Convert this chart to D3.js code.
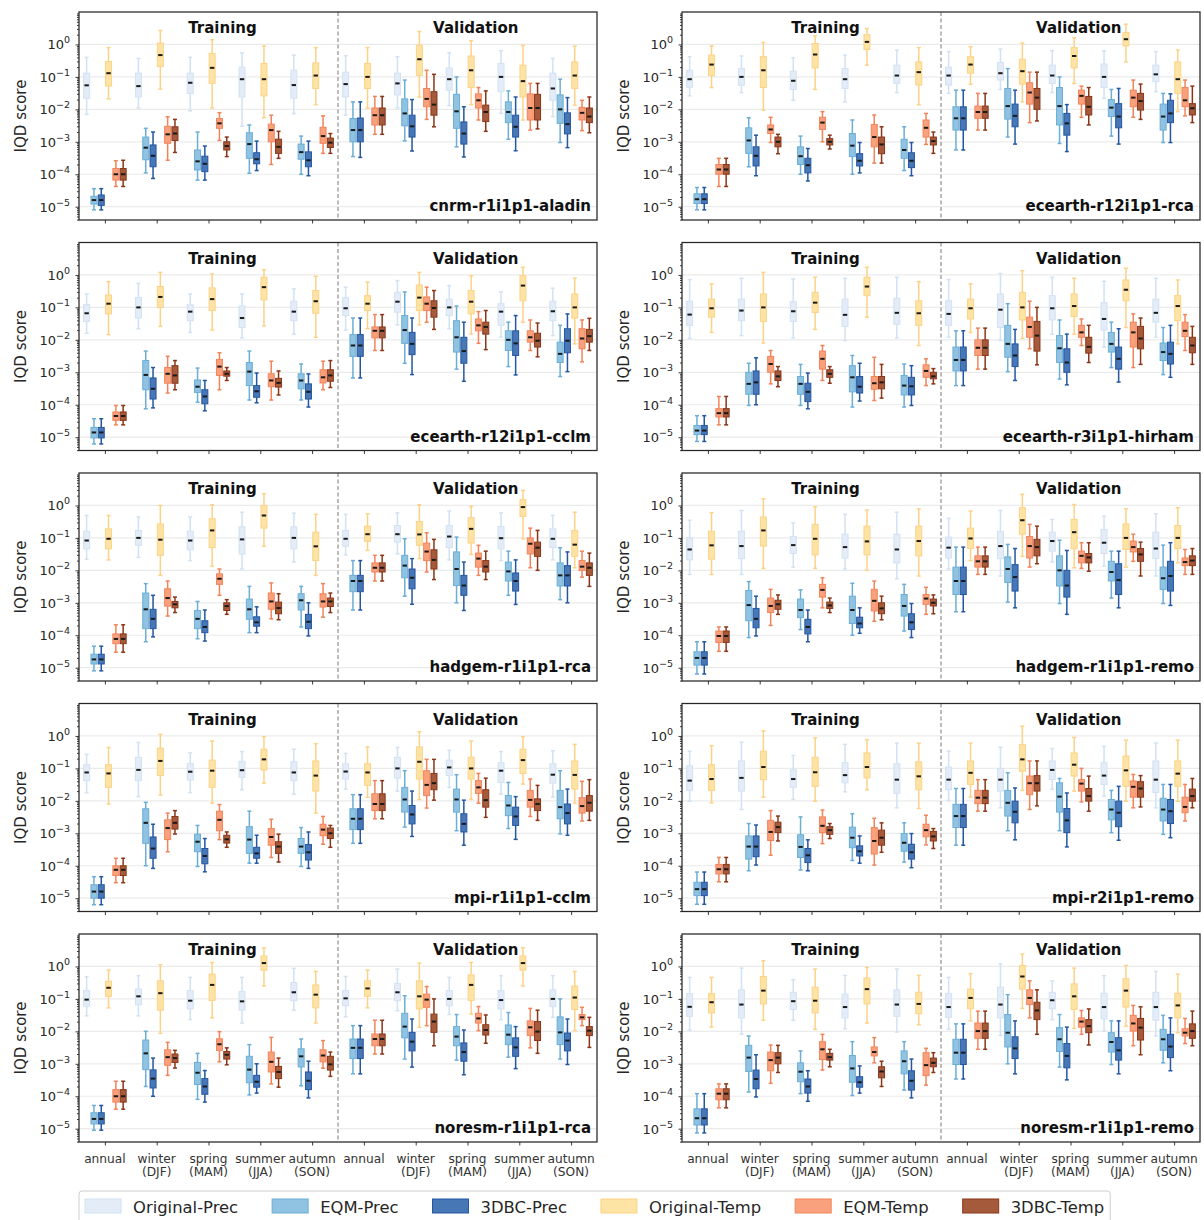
<!DOCTYPE html>
<html>
<head>
<meta charset="utf-8">
<script src="https://cdn.jsdelivr.net/npm/d3@7"></script>
<style>
  body { margin: 0; background: #fff; }
  svg { display: block; font-family: "DejaVu Sans", sans-serif; }
</style>
</head>
<body>
<svg id="chart" width="1204" height="1220"></svg>
<script>
// ---- labels ----
const seriesNames = ["Original-Prec", "EQM-Prec", "3DBC-Prec", "Original-Temp", "EQM-Temp", "3DBC-Temp"];
const seasonLabels = [["annual"], ["winter", "(DJF)"], ["spring", "(MAM)"], ["summer", "(JJA)"], ["autumn", "(SON)"]];
const periods = ["Training", "Validation"];
const models = ["cnrm-r1i1p1-aladin", "ecearth-r12i1p1-rca", "ecearth-r12i1p1-cclm", "ecearth-r3i1p1-hirham",
  "hadgem-r1i1p1-rca", "hadgem-r1i1p1-remo", "mpi-r1i1p1-cclm", "mpi-r2i1p1-remo",
  "noresm-r1i1p1-rca", "noresm-r1i1p1-remo"];
const yTicks = [1e-5, 1e-4, 1e-3, 1e-2, 1e-1, 1];

// ---- box statistics: per series, 10 groups (5 training + 5 validation), each [whiskerLow, q1, median, q3, whiskerHigh] ----
const cnrmAladin = [
  [[0.007,0.022,0.055,0.13,0.4],[0.011,0.024,0.052,0.13,0.37],[0.009,0.031,0.066,0.13,0.4],[0.003,0.024,0.085,0.2,0.55],[0.0074,0.022,0.056,0.16,0.47],
   [0.0067,0.024,0.06,0.14,0.45],[0.011,0.028,0.063,0.13,0.42],[0.013,0.039,0.085,0.19,0.55],[0.0075,0.035,0.1,0.26,0.64],[0.006,0.019,0.044,0.13,0.37]],
  [[8e-6,1.2e-5,1.6e-5,2.1e-5,3.6e-5],[1.1e-4,2.8e-4,6.6e-4,1.4e-3,2.6e-3],[6.6e-5,1.35e-4,2.5e-4,5.6e-4,2e-3],[1.07e-4,3.1e-4,8.5e-4,1.9e-3,3.3e-3],[1e-4,2.9e-4,4.8e-4,8.5e-4,1.5e-3],
   [3.5e-4,1e-3,2.3e-3,5.2e-3,0.017],[1.07e-3,3.1e-3,7.5e-3,0.021,0.08],[7e-4,2.6e-3,8.7e-3,0.029,0.1],[1.2e-3,3.9e-3,8.3e-3,0.017,0.037],[9.5e-4,3.7e-3,0.01,0.028,0.085]],
  [[8e-6,1.1e-5,1.6e-5,2.3e-5,3.6e-5],[7.4e-5,1.7e-4,3.7e-4,8e-4,2e-3],[6.6e-5,1.2e-4,2.1e-4,3.6e-4,7.4e-4],[1.3e-4,2.1e-4,2.9e-4,4.6e-4,1.05e-3],[9e-5,1.7e-4,2.7e-4,4.9e-4,1.05e-3],
   [3.3e-4,1e-3,2.3e-3,5.4e-3,0.017],[5.2e-4,1.4e-3,3e-3,6.6e-3,0.02],[3.4e-4,8.5e-4,1.8e-3,4.1e-3,0.012],[5.3e-4,1.4e-3,2.9e-3,6.6e-3,0.024],[6.6e-4,1.75e-3,3.5e-3,7.8e-3,0.023]],
  [[0.021,0.052,0.13,0.3,0.8],[0.042,0.21,0.47,1.1,2.7],[0.011,0.063,0.19,0.53,1.4],[0.0055,0.026,0.085,0.26,0.9],[0.014,0.044,0.11,0.27,0.8],
   [0.011,0.044,0.1,0.26,0.8],[0.024,0.11,0.35,0.95,2.5],[0.014,0.047,0.16,0.44,1.3],[0.0047,0.024,0.074,0.23,0.95],[0.0135,0.044,0.11,0.29,0.89]],
  [[4.2e-5,6.6e-5,1e-4,1.5e-4,2.6e-4],[2.7e-4,9e-4,1.7e-3,3e-3,5.9e-3],[1.1e-3,2.6e-3,3.7e-3,5.2e-3,7.9e-3],[2e-4,1e-3,2.3e-3,3.5e-3,6.6e-3],[4.4e-4,9e-4,1.5e-3,2.8e-3,6.3e-3],
   [1.7e-3,3.3e-3,6.6e-3,0.011,0.025],[4.9e-3,0.012,0.021,0.044,0.16],[4.7e-3,0.011,0.019,0.03,0.047],[2.3e-3,4.7e-3,0.011,0.03,0.063],[2.2e-3,4.7e-3,7.8e-3,0.0115,0.019]],
  [[4.2e-5,6.6e-5,1e-4,1.5e-4,2.7e-4],[4.7e-4,1.1e-3,1.8e-3,2.9e-3,4.9e-3],[3.5e-4,5.6e-4,7.4e-4,1e-3,1.4e-3],[3.1e-4,4.4e-4,7e-4,1.2e-3,2.1e-3],[4.4e-4,6.7e-4,9.4e-4,1.3e-3,1.8e-3],
   [1.7e-3,3.3e-3,6.6e-3,0.011,0.025],[2.9e-3,6.6e-3,0.014,0.035,0.12],[2.1e-3,4.2e-3,8.3e-3,0.0135,0.037],[2.5e-3,4.7e-3,0.011,0.029,0.063],[1.9e-3,3.9e-3,6e-3,0.011,0.024]]
];

const ecearthR12Rca = [
  [[0.026,0.048,0.085,0.16,0.42],[0.033,0.055,0.1,0.18,0.44],[0.019,0.041,0.076,0.15,0.39],[0.017,0.044,0.085,0.18,0.47],[0.033,0.063,0.11,0.23,0.67],
   [0.031,0.056,0.11,0.2,0.6],[0.041,0.08,0.13,0.28,0.72],[0.033,0.063,0.11,0.23,0.64],[0.022,0.047,0.1,0.25,0.64],[0.035,0.071,0.12,0.23,0.6]],
  [[8e-6,1.25e-5,1.7e-5,2.5e-5,3.9e-5],[1.7e-4,4.4e-4,1.1e-3,2.7e-3,5.5e-3],[1e-4,2e-4,3.6e-4,7e-4,1.5e-3],[1e-4,3.5e-4,7.6e-4,1.8e-3,4.7e-3],[1.3e-4,3.1e-4,5.6e-4,1.2e-3,2.9e-3],
   [5.6e-4,2.3e-3,5.3e-3,0.012,0.039],[1.4e-3,5e-3,0.0126,0.044,0.18],[8.9e-4,3.3e-3,0.0126,0.047,0.1],[1.5e-3,6e-3,0.0113,0.02,0.041],[9.5e-4,2.3e-3,6e-3,0.0145,0.031]],
  [[8e-6,1.25e-5,1.7e-5,2.5e-5,3.9e-5],[9e-5,1.8e-4,3.7e-4,7e-4,1.6e-3],[6.2e-5,1.1e-4,1.9e-4,3.1e-4,6.2e-4],[1.1e-4,1.8e-4,2.6e-4,4.3e-4,9.5e-4],[9e-5,1.6e-4,2.6e-4,4.6e-4,9.5e-4],
   [5.6e-4,2.3e-3,5.3e-3,0.012,0.039],[8.5e-4,2.9e-3,6.3e-3,0.0145,0.039],[5e-4,1.6e-3,3.7e-3,7.5e-3,0.014],[8.5e-4,2.7e-3,6e-3,0.015,0.044],[9.5e-4,3.9e-3,7.5e-3,0.019,0.03]],
  [[0.047,0.11,0.24,0.47,0.9],[0.0095,0.047,0.16,0.42,1.15],[0.041,0.19,0.49,1.07,1.85],[0.23,0.7,1.2,2.0,3.1],[0.014,0.056,0.14,0.29,0.8],
   [0.059,0.13,0.24,0.42,0.85],[0.017,0.06,0.15,0.35,1.1],[0.063,0.19,0.44,0.8,1.6],[0.29,0.9,1.45,2.35,4.2],[0.0085,0.031,0.085,0.29,0.67]],
  [[4.2e-5,1e-4,1.4e-4,2e-4,3.1e-4],[9.5e-4,1.8e-3,2.4e-3,3.3e-3,5.7e-3],[1e-3,2.4e-3,3.9e-3,5.7e-3,8.5e-3],[2.2e-4,7e-4,1.4e-3,3.4e-3,6.7e-3],[8.3e-4,1.4e-3,2.7e-3,4.7e-3,7.5e-3],
   [2.3e-3,5.3e-3,8.3e-3,0.0126,0.031],[3.9e-3,0.0145,0.033,0.066,0.14],[5.7e-3,0.0145,0.026,0.039,0.052],[5.7e-3,0.012,0.023,0.039,0.08],[6.3e-3,0.012,0.019,0.047,0.08]],
  [[4.2e-5,1e-4,1.4e-4,2e-4,3.1e-4],[4.3e-4,7e-4,1e-3,1.4e-3,1.7e-3],[6e-4,8e-4,1e-3,1.25e-3,1.6e-3],[2.2e-4,4.3e-4,8.3e-4,1.4e-3,2.9e-3],[4.4e-4,8e-4,1.05e-3,1.4e-3,2e-3],
   [2.3e-3,5.3e-3,8.3e-3,0.0126,0.031],[4.4e-3,0.01,0.023,0.044,0.14],[3.3e-3,6.7e-3,0.012,0.025,0.047],[4.9e-3,9.5e-3,0.018,0.031,0.06],[3.9e-3,6.7e-3,0.0108,0.015,0.052]]
];

const ecearthR12Cclm = [
  [[0.016,0.037,0.066,0.122,0.26],[0.022,0.047,0.1,0.2,0.55],[0.017,0.039,0.074,0.12,0.26],[0.0115,0.024,0.047,0.11,0.26],[0.015,0.039,0.074,0.155,0.37],
   [0.02,0.056,0.094,0.2,0.42],[0.029,0.071,0.15,0.29,0.67],[0.022,0.056,0.1,0.18,0.47],[0.012,0.028,0.074,0.13,0.3],[0.0135,0.039,0.076,0.155,0.39]],
  [[6.2e-6,9.5e-6,1.4e-5,2e-5,3.7e-5],[7.5e-5,2.9e-4,8.3e-4,2.3e-3,4.5e-3],[1.2e-4,2.4e-4,3.6e-4,5.8e-4,1.35e-3],[1.4e-4,3.9e-4,1.05e-3,2e-3,4.5e-3],[1.4e-4,3.1e-4,5.6e-4,9e-4,1.8e-3],
   [6.7e-4,3.1e-3,6.7e-3,0.0145,0.047],[1.9e-3,7.8e-3,0.02,0.056,0.3],[1.25e-3,4.2e-3,0.012,0.039,0.11],[1.5e-3,4.7e-3,0.01,0.019,0.035],[7.4e-4,2e-3,3.7e-3,8.5e-3,0.028]],
  [[6.2e-6,9.5e-6,1.4e-5,2e-5,3.7e-5],[8e-5,1.5e-4,3.1e-4,6.7e-4,1.4e-3],[6.5e-5,1.07e-4,1.8e-4,2.9e-4,5.6e-4],[1.15e-4,1.7e-4,2.6e-4,3.9e-4,9.5e-4],[8.5e-5,1.5e-4,2.5e-4,4.4e-4,8.9e-4],
   [6.7e-4,3.1e-3,6.7e-3,0.0145,0.047],[8.5e-4,3.5e-3,7.5e-3,0.017,0.047],[5.3e-4,1.9e-3,4.5e-3,0.012,0.035],[8.3e-4,3.3e-3,7.8e-3,0.019,0.056],[1.05e-3,4e-3,9.4e-3,0.022,0.063]],
  [[0.0145,0.063,0.13,0.24,0.62],[0.026,0.1,0.21,0.44,1.2],[0.02,0.08,0.18,0.4,1.07],[0.027,0.17,0.42,0.85,1.45],[0.012,0.066,0.155,0.33,0.91],
   [0.022,0.08,0.13,0.23,0.6],[0.029,0.08,0.2,0.49,1.2],[0.015,0.063,0.15,0.33,0.95],[0.035,0.16,0.47,0.95,1.72],[0.0075,0.047,0.1,0.26,0.8]],
  [[2.4e-5,3.3e-5,4.5e-5,6e-5,9.5e-5],[2.3e-4,4.6e-4,9e-4,1.4e-3,3.1e-3],[2.9e-4,8e-4,1.5e-3,2.5e-3,4e-3],[1.4e-4,3.6e-4,5.6e-4,9e-4,2.2e-3],[2.9e-4,4.7e-4,7e-4,1.2e-3,2.2e-3],
   [4.7e-3,0.0115,0.019,0.025,0.06],[0.035,0.08,0.13,0.21,0.42],[7.8e-3,0.019,0.028,0.044,0.074],[4.7e-3,8.5e-3,0.012,0.019,0.041],[2.1e-3,5.3e-3,0.011,0.022,0.041]],
  [[2.4e-5,3.3e-5,4.5e-5,6e-5,9.5e-5],[2.9e-4,4.6e-4,8e-4,1.6e-3,2.3e-3],[5.6e-4,7.6e-4,9e-4,1.1e-3,1.4e-3],[2e-4,3.5e-4,4.7e-4,6.5e-4,1.1e-3],[3.4e-4,5.3e-4,8e-4,1.2e-3,2.3e-3],
   [4.7e-3,0.0115,0.019,0.025,0.06],[0.021,0.05,0.096,0.16,0.33],[5e-3,0.015,0.025,0.035,0.08],[3e-3,6e-3,9.4e-3,0.016,0.033],[4.7e-3,8.5e-3,0.013,0.021,0.046]]
];

const ecearthR3Hirham = [
  [[0.011,0.028,0.06,0.155,0.72],[0.0135,0.039,0.08,0.18,0.79],[0.0115,0.037,0.076,0.15,0.75],[0.0095,0.026,0.059,0.18,0.79],[0.0115,0.03,0.068,0.19,0.85],
   [0.012,0.028,0.063,0.16,0.72],[0.0095,0.024,0.085,0.26,1.1],[0.015,0.041,0.094,0.23,0.85],[0.006,0.02,0.044,0.14,0.64],[0.012,0.035,0.068,0.18,0.79]],
  [[7.4e-6,1.2e-5,1.6e-5,2.3e-5,4.6e-5],[9.5e-5,2.1e-4,4.4e-4,1e-3,1.9e-3],[9.5e-5,2.1e-4,4.4e-4,7.4e-4,1.75e-3],[8.5e-5,2.5e-4,7e-4,1.6e-3,3.3e-3],[8.5e-5,2e-4,3.9e-4,8e-4,1.8e-3],
   [3.9e-4,1.1e-3,2.4e-3,6e-3,0.019],[1.05e-3,2.9e-3,7.5e-3,0.028,0.13],[6.2e-4,2e-3,5.5e-3,0.0135,0.041],[1.4e-3,4.2e-3,7.5e-3,0.017,0.035],[8.5e-4,2.3e-3,4.2e-3,8e-3,0.024]],
  [[7.4e-6,1.2e-5,1.6e-5,2.3e-5,4.6e-5],[1e-4,2.1e-4,4.9e-4,1.1e-3,2.8e-3],[7.5e-5,1.25e-4,2.5e-4,4.6e-4,9.5e-4],[1.3e-4,2.3e-4,3.6e-4,7.4e-4,1.9e-3],[9.5e-5,2e-4,3.7e-4,7e-4,1.6e-3],
   [3.9e-4,1.1e-3,2.4e-3,6e-3,0.019],[5.6e-4,1.5e-3,3.3e-3,7.5e-3,0.021],[4.1e-4,1e-3,2e-3,5.3e-3,0.015],[5e-4,1.25e-3,2.6e-3,6e-3,0.022],[7e-4,1.8e-3,3.7e-3,8.5e-3,0.028]],
  [[0.017,0.05,0.094,0.18,0.53],[0.008,0.037,0.1,0.26,1.2],[0.021,0.07,0.14,0.29,0.85],[0.05,0.23,0.44,0.85,1.72],[0.0067,0.028,0.066,0.16,0.62],
   [0.017,0.044,0.094,0.18,0.53],[0.011,0.041,0.1,0.29,1.35],[0.015,0.052,0.11,0.26,0.79],[0.024,0.16,0.35,0.7,1.6],[0.0075,0.039,0.11,0.23,0.7]],
  [[2.4e-5,4.2e-5,5.5e-5,7.6e-5,1.8e-4],[4.4e-4,1e-3,1.8e-3,3.1e-3,4.7e-3],[5.6e-4,1.25e-3,2.6e-3,4.5e-3,6.7e-3],[1.35e-4,3e-4,4.6e-4,7.4e-4,2.9e-3],[3.9e-4,7e-4,1.1e-3,1.7e-3,2.6e-3],
   [1.25e-3,3.3e-3,5.7e-3,0.01,0.023],[5.3e-3,0.012,0.025,0.05,0.155],[6.7e-3,0.012,0.017,0.028,0.044],[1.4e-3,6e-3,0.017,0.035,0.063],[4.7e-3,0.0126,0.019,0.035,0.06]],
  [[2.4e-5,4.2e-5,5.5e-5,7.6e-5,1.8e-4],[3.6e-4,5.6e-4,7.5e-4,1.1e-3,1.5e-3],[4.6e-4,7e-4,9e-4,1.2e-3,1.5e-3],[1.6e-4,3.1e-4,4.9e-4,7.4e-4,1.75e-3],[4.4e-4,6.3e-4,7.5e-4,1e-3,1.3e-3],
   [1.25e-3,3.3e-3,5.7e-3,0.01,0.023],[1.7e-3,4.5e-3,0.0135,0.037,0.1],[2e-3,3.9e-3,6.1e-3,0.012,0.028],[1.75e-3,5.3e-3,0.011,0.026,0.047],[1.75e-3,4e-3,6.7e-3,0.012,0.026]]
];

const hadgemRca = [
  [[0.022,0.046,0.083,0.16,0.49],[0.025,0.059,0.1,0.17,0.44],[0.02,0.043,0.083,0.16,0.44],[0.011,0.032,0.09,0.22,0.62],[0.018,0.046,0.1,0.22,0.58],
   [0.03,0.055,0.094,0.17,0.53],[0.032,0.074,0.13,0.24,0.59],[0.021,0.05,0.11,0.24,0.67],[0.02,0.046,0.098,0.225,0.59],[0.021,0.05,0.094,0.19,0.49]],
  [[8e-6,1.3e-5,1.8e-5,2.6e-5,4.6e-5],[6.3e-5,1.6e-4,6.3e-4,2e-3,3.9e-3],[7.8e-5,1.6e-4,3.2e-4,5.8e-4,1.1e-3],[1.2e-4,3.1e-4,6.3e-4,1.3e-3,3.2e-3],[1.8e-4,6e-4,1.2e-3,1.9e-3,3.2e-3],
   [6e-4,2.2e-3,4.7e-3,7e-3,0.02],[1.6e-3,5.9e-3,0.014,0.029,0.094],[1e-3,3.4e-3,0.011,0.037,0.106],[1.7e-3,4.7e-3,9.3e-3,0.018,0.039],[1.25e-3,3.3e-3,7e-3,0.017,0.05]],
  [[8e-6,1.3e-5,1.8e-5,2.6e-5,4.6e-5],[8.9e-5,1.6e-4,3.2e-4,6.3e-4,1.7e-3],[6.6e-5,1.2e-4,1.8e-4,2.8e-4,6e-4],[1.2e-4,1.9e-4,2.5e-4,3.7e-4,7.5e-4],[9.5e-5,1.6e-4,2.6e-4,4.4e-4,1e-3],
   [6e-4,2.2e-3,4.7e-3,7e-3,0.02],[9e-4,2.7e-3,5.9e-3,0.011,0.023],[5.8e-4,1.7e-3,3.4e-3,7e-3,0.018],[8.9e-4,2.3e-3,4.7e-3,8.3e-3,0.021],[1e-3,3.3e-3,7e-3,0.014,0.037]],
  [[0.021,0.046,0.094,0.19,0.49],[0.007,0.029,0.088,0.27,1],[0.0135,0.05,0.17,0.39,1.05],[0.055,0.2,0.49,1,2.3],[0.007,0.02,0.055,0.15,0.53],
   [0.041,0.078,0.13,0.23,0.55],[0.023,0.059,0.128,0.32,1.05],[0.031,0.069,0.19,0.42,0.93],[0.094,0.46,0.89,1.5,2.9],[0.012,0.027,0.062,0.17,0.62]],
  [[3e-5,5.5e-5,7.7e-5,1.1e-4,2.1e-4],[3.9e-4,7.9e-4,1.4e-3,2.7e-3,4.7e-3],[1.7e-3,3.7e-3,5.5e-3,7.8e-3,0.011],[3.2e-4,6.3e-4,1.1e-3,2e-3,4.1e-3],[3.6e-4,7.4e-4,1.1e-3,1.9e-3,3.9e-3],
   [4.7e-3,8.9e-3,0.012,0.017,0.029],[8.9e-3,0.02,0.038,0.069,0.144],[7e-3,0.0126,0.023,0.034,0.059],[0.012,0.032,0.066,0.1,0.2],[6.2e-3,0.01,0.013,0.02,0.039]],
  [[3e-5,5.5e-5,7.7e-5,1.1e-4,2.1e-4],[5e-4,7e-4,9e-4,1.1e-3,1.5e-3],[4.4e-4,5.8e-4,7.9e-4,1e-3,1.25e-3],[3e-4,4.6e-4,6.9e-4,1.05e-3,1.9e-3],[5e-4,7.7e-4,1.1e-3,1.4e-3,2e-3],
   [4.7e-3,8.9e-3,0.012,0.017,0.029],[5.2e-3,0.011,0.021,0.043,0.09],[5.2e-3,8.9e-3,0.013,0.02,0.039],[0.01,0.027,0.05,0.074,0.17],[3.2e-3,7e-3,0.012,0.017,0.034]]
];

const hadgemRemo = [
  [[0.0075,0.021,0.044,0.1,0.35],[0.0075,0.023,0.056,0.16,0.7],[0.0126,0.033,0.06,0.11,0.29],[0.011,0.024,0.052,0.13,0.53],[0.0055,0.017,0.044,0.13,0.62],
   [0.011,0.024,0.05,0.106,0.4],[0.0067,0.023,0.056,0.16,0.7],[0.018,0.039,0.08,0.15,0.37],[0.0135,0.033,0.071,0.18,0.47],[0.0067,0.023,0.047,0.15,0.55]],
  [[6.4e-6,1.2e-5,2e-5,3.1e-5,6.3e-5],[8.5e-5,2.8e-4,8.5e-4,2.4e-3,4.5e-3],[1.5e-4,3.5e-4,6e-4,1.3e-3,2.5e-3],[1e-4,2.3e-4,6e-4,1.6e-3,4e-3],[1.35e-4,3.9e-4,8e-4,1.8e-3,3.7e-3],
   [5.3e-4,1.8e-3,4.7e-3,0.0126,0.052],[1.05e-3,4.2e-3,0.011,0.026,0.063],[9.5e-4,3.3e-3,0.01,0.028,0.085],[1.4e-3,4.7e-3,8.9e-3,0.019,0.039],[9.5e-4,2.6e-3,5.7e-3,0.0126,0.06]],
  [[6.4e-6,1.2e-5,2e-5,3.1e-5,6.3e-5],[9.5e-5,1.7e-4,3.2e-4,6.7e-4,1.6e-3],[6.3e-5,1.1e-4,1.8e-4,3.1e-4,6e-4],[1.15e-4,1.7e-4,2.3e-4,3.6e-4,7e-4],[8.5e-5,1.5e-4,2.5e-4,4.6e-4,9.5e-4],
   [5.3e-4,1.8e-3,4.7e-3,0.0126,0.052],[7e-4,2.3e-3,6.2e-3,0.015,0.047],[4.4e-4,1.5e-3,3.4e-3,0.01,0.041],[7e-4,1.8e-3,5e-3,0.016,0.039],[8.3e-4,2.3e-3,6.7e-3,0.019,0.071]],
  [[0.0075,0.022,0.059,0.16,0.6],[0.0115,0.056,0.17,0.44,1.6],[0.0115,0.03,0.094,0.26,0.91],[0.01,0.03,0.078,0.23,0.72],[0.0067,0.028,0.08,0.23,0.79],
   [0.02,0.047,0.096,0.2,0.67],[0.027,0.13,0.35,0.85,2.2],[0.012,0.046,0.15,0.37,1.07],[0.0126,0.044,0.1,0.27,0.79],[0.017,0.047,0.1,0.24,0.85]],
  [[3.2e-5,6e-5,9.5e-5,1.35e-4,1.8e-4],[2e-4,5e-4,8e-4,1.4e-3,2.6e-3],[7e-4,1.5e-3,2.5e-3,3.7e-3,5.9e-3],[2.7e-4,5.6e-4,1.15e-3,2.6e-3,4.7e-3],[4.4e-4,9e-4,1.35e-3,1.8e-3,3e-3],
   [7.5e-3,0.0126,0.019,0.028,0.052],[0.0126,0.024,0.056,0.11,0.26],[0.0115,0.017,0.028,0.039,0.071],[0.019,0.037,0.052,0.08,0.13],[7.5e-3,0.014,0.018,0.024,0.044]],
  [[3.2e-5,6e-5,9.5e-5,1.35e-4,1.8e-4],[4.4e-4,6.3e-4,9e-4,1.2e-3,1.75e-3],[5e-4,6.7e-4,8.3e-4,1.05e-3,1.4e-3],[3e-4,4.6e-4,6.7e-4,1e-3,1.6e-3],[4.6e-4,8e-4,1e-3,1.3e-3,1.75e-3],
   [7.5e-3,0.0126,0.019,0.028,0.052],[0.016,0.028,0.052,0.09,0.23],[9.4e-3,0.017,0.025,0.033,0.071],[6.7e-3,0.019,0.031,0.047,0.074],[7.5e-3,0.014,0.02,0.028,0.047]]
];

const mpiCclm = [
  [[0.018,0.042,0.075,0.13,0.27],[0.0135,0.042,0.09,0.22,0.63],[0.018,0.044,0.079,0.14,0.3],[0.022,0.053,0.088,0.165,0.33],[0.016,0.042,0.075,0.16,0.39],
   [0.023,0.047,0.08,0.14,0.29],[0.02,0.05,0.1,0.22,0.44],[0.026,0.06,0.107,0.18,0.36],[0.016,0.037,0.085,0.15,0.33],[0.013,0.035,0.064,0.14,0.35]],
  [[6.3e-6,1e-5,1.6e-5,2.6e-5,4.6e-5],[1e-4,4.9e-4,2.1e-3,5.7e-3,9e-3],[9.5e-5,2.7e-4,5.5e-4,9.4e-4,1.75e-3],[1.2e-4,2.4e-4,6.4e-4,1.6e-3,4.8e-3],[9.5e-5,2.4e-4,3.9e-4,6.9e-4,1.5e-3],
   [4.9e-4,1.3e-3,2.8e-3,5.7e-3,0.0155],[1.55e-3,4.5e-3,0.011,0.026,0.085],[1.2e-3,4.5e-3,0.011,0.023,0.064],[1.4e-3,3.5e-3,7.2e-3,0.0145,0.037],[9.6e-4,2.8e-3,6.4e-3,0.021,0.085]],
  [[6.3e-6,1e-5,1.6e-5,2.6e-5,4.6e-5],[8.3e-5,1.7e-4,3.4e-4,7.7e-4,1.9e-3],[6.5e-5,1.15e-4,2e-4,3.4e-4,6.9e-4],[1.2e-4,1.7e-4,2.4e-4,3.7e-4,8.7e-4],[8.3e-5,1.5e-4,2.6e-4,4.5e-4,1.1e-3],
   [4.9e-4,1.3e-3,2.8e-3,5.7e-3,0.0155],[8e-4,1.95e-3,3.8e-3,7.2e-3,0.02],[4.3e-4,1.1e-3,1.95e-3,4e-3,0.0105],[6.5e-4,1.75e-3,3.3e-3,6.4e-3,0.0135],[8.7e-4,1.95e-3,4.2e-3,8e-3,0.023]],
  [[8e-3,0.026,0.07,0.13,0.44],[0.015,0.06,0.17,0.42,1.12],[8.5e-3,0.026,0.085,0.18,0.7],[0.035,0.089,0.19,0.39,0.95],[4.2e-3,0.02,0.06,0.17,0.58],
   [0.013,0.03,0.075,0.14,0.46],[0.011,0.047,0.16,0.46,1.35],[0.011,0.047,0.1,0.22,0.7],[0.033,0.07,0.18,0.39,0.95],[8.5e-3,0.023,0.063,0.17,0.55]],
  [[3e-5,5e-5,7.5e-5,1e-4,1.7e-4],[2.7e-4,6.4e-4,1.45e-3,2.6e-3,4.2e-3],[6.4e-4,1.2e-3,2.6e-3,4.8e-3,7.7e-3],[1.8e-4,4.3e-4,7.7e-4,1.4e-3,2.7e-3],[4.6e-4,8.4e-4,1.3e-3,1.9e-3,3.3e-3],
   [2.8e-3,5e-3,8e-3,0.0165,0.042],[6e-3,0.0145,0.031,0.085,0.19],[8.5e-3,0.017,0.026,0.042,0.07],[3.3e-3,6.4e-3,0.0107,0.021,0.047],[2.4e-3,4.2e-3,6.9e-3,0.0125,0.04]],
  [[3e-5,5e-5,7.5e-5,1e-4,1.7e-4],[9.5e-4,1.35e-3,2.1e-3,3.3e-3,5e-3],[3.7e-4,5e-4,6.5e-4,8.7e-4,1.1e-3],[1.3e-4,2.4e-4,3.9e-4,5.5e-4,9.4e-4],[3.7e-4,6.9e-4,1e-3,1.45e-3,1.75e-3],
   [2.8e-3,5e-3,8e-3,0.0165,0.042],[0.0105,0.022,0.035,0.07,0.19],[3.1e-3,6.4e-3,0.0105,0.022,0.05],[2.5e-3,5e-3,8e-3,0.0115,0.03],[2.5e-3,4.8e-3,8.7e-3,0.0145,0.045]]
];

const mpiR2Remo = [
  [[9.8e-3,0.021,0.042,0.12,0.34],[5.4e-3,0.02,0.051,0.17,0.65],[0.011,0.026,0.047,0.09,0.25],[0.019,0.036,0.062,0.15,0.55],[6.1e-3,0.017,0.045,0.14,0.6],
   [0.0103,0.022,0.045,0.11,0.34],[6.1e-3,0.02,0.045,0.1,0.45],[0.023,0.045,0.09,0.17,0.41],[0.014,0.032,0.06,0.15,0.48],[6.1e-3,0.018,0.045,0.17,0.6]],
  [[6.5e-6,1.2e-5,1.9e-5,3.1e-5,6.4e-5],[7e-5,1.6e-4,3.9e-4,8.3e-4,2e-3],[7.4e-5,1.8e-4,3.8e-4,9e-4,3.2e-3],[1.45e-4,3.6e-4,7.3e-4,1.55e-3,4e-3],[1.3e-4,2.8e-4,5.1e-4,9.8e-4,2.1e-3],
   [4.3e-4,1.5e-3,3.4e-3,7.8e-3,0.024],[1.2e-3,3.4e-3,8.7e-3,0.021,0.073],[1.2e-3,4.5e-3,0.0135,0.036,0.049],[1.05e-3,2.6e-3,5.4e-3,0.011,0.021],[9.3e-4,2.4e-3,5.4e-3,0.012,0.032]],
  [[6.5e-6,1.2e-5,1.9e-5,3.1e-5,6.4e-5],[1.05e-4,1.9e-4,3.9e-4,8.3e-4,1.8e-3],[7e-5,1.25e-4,2.1e-4,3.4e-4,6.3e-4],[1.2e-4,2e-4,2.8e-4,4.1e-4,8.3e-4],[8.7e-5,1.6e-4,2.6e-4,4.6e-4,9.8e-4],
   [4.3e-4,1.5e-3,3.4e-3,7.8e-3,0.024],[6.3e-4,2.1e-3,4.6e-3,9.8e-3,0.025],[3.8e-4,1.05e-3,2.5e-3,5.8e-3,0.0175],[6.1e-4,1.6e-3,4.3e-3,9.8e-3,0.028],[7.3e-4,2e-3,4.8e-3,0.011,0.032]],
  [[8.7e-3,0.021,0.047,0.13,0.5],[0.013,0.045,0.11,0.34,1.45],[9.8e-3,0.028,0.076,0.22,0.87],[0.022,0.051,0.11,0.3,0.77],[5.8e-3,0.022,0.057,0.16,0.6],
   [0.013,0.032,0.073,0.17,0.6],[0.021,0.082,0.19,0.54,2],[0.02,0.058,0.13,0.3,0.9],[9.8e-3,0.028,0.087,0.24,0.74],[9.8e-3,0.028,0.069,0.17,0.74]],
  [[3.2e-5,5.6e-5,7.8e-5,1.1e-4,1.8e-4],[2.1e-4,6e-4,1.1e-3,2.5e-3,5e-3],[4.8e-4,1.05e-3,1.7e-3,3.2e-3,5.2e-3],[1.05e-4,2.3e-4,5.8e-4,1.5e-3,2.9e-3],[4.4e-4,7.8e-4,1.25e-3,1.9e-3,3.6e-3],
   [4.8e-3,8.2e-3,0.0125,0.021,0.045],[5.4e-3,0.0155,0.035,0.058,0.17],[9.3e-3,0.02,0.034,0.045,0.1],[6.1e-3,0.013,0.027,0.041,0.065],[2.4e-3,4.3e-3,6.5e-3,0.013,0.032]],
  [[3.2e-5,5.6e-5,7.8e-5,1.1e-4,1.8e-4],[5.8e-4,1.05e-3,1.55e-3,2.2e-3,3.4e-3],[6.9e-4,9.3e-4,1.25e-3,1.6e-3,2e-3],[2.6e-4,4.3e-4,7.3e-4,1.25e-3,2.1e-3],[3.4e-4,5.8e-4,8e-4,1.15e-3,1.4e-3],
   [4.8e-3,8.2e-3,0.0125,0.021,0.045],[7e-3,0.02,0.035,0.06,0.17],[4.8e-3,9.8e-3,0.014,0.024,0.058],[6.5e-3,0.013,0.024,0.039,0.06],[6.1e-3,9.8e-3,0.014,0.023,0.049]]
];

const noresmRca = [
  [[0.03,0.06,0.095,0.18,0.48],[0.03,0.066,0.12,0.2,0.52],[0.023,0.049,0.088,0.18,0.46],[0.018,0.045,0.084,0.17,0.46],[0.045,0.088,0.16,0.32,0.87],
   [0.028,0.062,0.104,0.18,0.49],[0.043,0.088,0.16,0.3,0.83],[0.033,0.062,0.1,0.18,0.46],[0.023,0.049,0.092,0.18,0.52],[0.027,0.058,0.1,0.19,0.52]],
  [[9e-6,1.4e-5,2e-5,3.1e-5,5.2e-5],[2e-4,6.6e-4,2.1e-3,5.4e-3,0.01],[8e-5,2.3e-4,5.3e-4,1.1e-3,2.1e-3],[1.1e-4,2.6e-4,6.6e-4,1.7e-3,3.9e-3],[2.1e-4,8e-4,1.7e-3,2.9e-3,5.8e-3],
   [4.9e-4,1.45e-3,3.1e-3,5.8e-3,0.015],[1.4e-3,6.3e-3,0.014,0.036,0.125],[1.3e-3,3.6e-3,6.9e-3,0.014,0.033],[1.6e-3,3.9e-3,7.9e-3,0.0157,0.038],[1.4e-3,3.9e-3,9.3e-3,0.028,0.1]],
  [[9e-6,1.4e-5,2e-5,3.1e-5,5.2e-5],[1e-4,1.8e-4,3.5e-4,6.5e-4,1.5e-3],[6.6e-5,1.15e-4,2e-4,3.5e-4,6.2e-4],[1.25e-4,1.9e-4,2.8e-4,4.4e-4,1e-3],[8.9e-5,1.6e-4,3e-4,5.6e-4,1.2e-3],
   [4.9e-4,1.45e-3,3.1e-3,5.8e-3,0.015],[7.9e-4,2.5e-3,4.8e-3,9.3e-3,0.024],[4.6e-4,1.2e-3,2.3e-3,4.4e-3,0.011],[7.1e-4,1.7e-3,3.2e-3,6.3e-3,0.014],[9.5e-4,2.5e-3,5.2e-3,8.9e-3,0.024]],
  [[0.053,0.12,0.22,0.35,0.77],[8.7e-3,0.045,0.15,0.36,1.12],[0.026,0.09,0.27,0.58,1.33],[0.25,0.77,1.27,2.1,3.7],[0.018,0.053,0.135,0.27,0.7],
   [0.053,0.12,0.21,0.36,0.77],[0.0133,0.049,0.12,0.36,1.27],[0.034,0.09,0.27,0.55,1.33],[0.25,0.77,1.27,2.1,3.8],[0.0105,0.047,0.11,0.25,0.7]],
  [[4e-5,6.6e-5,1e-4,1.6e-4,2.9e-4],[4.4e-4,9e-4,1.6e-3,2.7e-3,4.6e-3],[1.15e-3,2.6e-3,4e-3,5.9e-3,9.8e-3],[2.4e-4,5.6e-4,1.15e-3,2.3e-3,6.5e-3],[7.3e-4,1.15e-3,1.8e-3,2.7e-3,5.2e-3],
   [2e-3,3.6e-3,5.8e-3,8.3e-3,0.022],[0.015,0.055,0.095,0.14,0.24],[0.0105,0.018,0.025,0.036,0.058],[3.1e-3,7.4e-3,0.0133,0.021,0.051],[0.015,0.023,0.027,0.033,0.055]],
  [[4e-5,6.6e-5,1e-4,1.6e-4,2.9e-4],[7.4e-4,1.1e-3,1.5e-3,2e-3,2.6e-3],[9.3e-4,1.4e-3,1.9e-3,2.4e-3,3.1e-3],[1.9e-4,3.5e-4,5.6e-4,8.3e-4,1.5e-3],[4.1e-4,6.4e-4,9.6e-4,1.7e-3,2.3e-3],
   [2e-3,3.6e-3,5.8e-3,8.3e-3,0.022],[3.6e-3,9.3e-3,0.02,0.034,0.1],[4.3e-3,7.7e-3,0.011,0.016,0.032],[2.1e-3,5.2e-3,9.8e-3,0.02,0.045],[3.2e-3,7.4e-3,0.0105,0.014,0.027]]
];

const noresmRemo = [
  [[0.011,0.029,0.057,0.145,0.46],[8.2e-3,0.026,0.067,0.19,0.89],[0.022,0.047,0.085,0.16,0.39],[0.012,0.026,0.056,0.14,0.53],[9.5e-3,0.029,0.067,0.19,0.83],
   [0.0115,0.027,0.056,0.145,0.46],[7.5e-3,0.026,0.067,0.23,1.2],[0.023,0.05,0.091,0.16,0.36],[0.0102,0.024,0.056,0.15,0.52],[7.2e-3,0.022,0.056,0.16,0.7]],
  [[7.4e-6,1.3e-5,2.1e-5,4.1e-5,1.2e-4],[1.35e-4,5.8e-4,1.55e-3,3.7e-3,7.2e-3],[1.2e-4,2.8e-4,5.7e-4,1.07e-3,2.5e-3],[1.05e-4,2.7e-4,7.2e-4,1.8e-3,4.8e-3],[1.55e-4,4.9e-4,1.2e-3,2.5e-3,4.8e-3],
   [3.4e-4,9.5e-4,2.2e-3,5.7e-3,0.017],[1e-3,3.3e-3,9.1e-3,0.033,0.135],[7.9e-4,2.4e-3,5.7e-3,0.013,0.033],[9.5e-4,2.3e-3,4.7e-3,9.1e-3,0.021],[1.07e-3,2.6e-3,5.7e-3,0.0115,0.031]],
  [[7.4e-6,1.3e-5,2.1e-5,4.1e-5,1.2e-4],[9.5e-5,1.7e-4,3.4e-4,6.4e-4,1.9e-3],[7e-5,1.25e-4,2e-4,3.4e-4,6.1e-4],[1.25e-4,1.9e-4,2.7e-4,4e-4,8.6e-4],[8.9e-5,1.55e-4,3e-4,6.1e-4,1.4e-3],
   [3.4e-4,9.5e-4,2.2e-3,5.7e-3,0.017],[4.9e-4,1.45e-3,3e-3,6.8e-3,0.021],[3.2e-4,7.5e-4,1.75e-3,4.2e-3,0.0135],[4.9e-4,1.3e-3,2.6e-3,6.4e-3,0.021],[6.1e-4,1.55e-3,3.4e-3,8.1e-3,0.026]],
  [[0.0135,0.037,0.079,0.145,0.46],[0.022,0.07,0.18,0.49,1.5],[0.0115,0.037,0.088,0.23,0.83],[0.018,0.07,0.2,0.44,0.93],[0.016,0.035,0.07,0.16,0.53],
   [0.021,0.05,0.107,0.2,0.6],[0.051,0.2,0.49,1.07,2.4],[0.0123,0.047,0.12,0.29,0.89],[0.0145,0.056,0.18,0.42,1.07],[9.1e-3,0.026,0.063,0.15,0.58]],
  [[4.4e-5,7.8e-5,1.2e-4,1.7e-4,2.4e-4],[2.5e-4,6.1e-4,1.3e-3,2.3e-3,3.8e-3],[6.4e-4,1.35e-3,2.8e-3,4.8e-3,8.1e-3],[1.07e-3,1.75e-3,2.3e-3,3.3e-3,6.4e-3],[2.2e-4,4.3e-4,9.1e-4,2.2e-3,3e-3],
   [2.8e-3,6.1e-3,0.0102,0.018,0.042],[0.026,0.067,0.107,0.19,0.36],[8.1e-3,0.0135,0.02,0.026,0.044],[3.6e-3,0.0102,0.0175,0.031,0.063],[4.2e-3,7.2e-3,9.1e-3,0.012,0.025]],
  [[4.4e-5,7.8e-5,1.2e-4,1.7e-4,2.4e-4],[5.4e-4,1e-3,1.55e-3,2.2e-3,3.7e-3],[8.1e-4,1.3e-3,1.6e-3,2.1e-3,2.8e-3],[2e-4,3.7e-4,5.8e-4,8.1e-4,1.2e-3],[5.4e-4,8.1e-4,1.07e-3,1.5e-3,2.2e-3],
   [2.8e-3,6.1e-3,0.0102,0.018,0.042],[8.1e-3,0.023,0.044,0.079,0.19],[3.8e-3,9.1e-3,0.0145,0.023,0.049],[1.9e-3,5.4e-3,0.013,0.025,0.057],[3.6e-3,6.1e-3,0.0102,0.017,0.042]]
];

const panelData = [cnrmAladin, ecearthR12Rca, ecearthR12Cclm, ecearthR3Hirham, hadgemRca,
  hadgemRemo, mpiCclm, mpiR2Remo, noresmRca, noresmRemo];

// ---- styling ----
const fills   = ["#e3ecf7", "#8fc3e1", "#4877b6", "#fde3a4", "#f8a17c", "#a65a3c"];
const strokes = ["#d2e2f2", "#6baed6", "#2356a3", "#fdd287", "#f3845a", "#8a3516"];
const textColor = "#262626";

// ---- layout ----
const svg = d3.select("#chart");
const panelW = 518, panelH = 208;
const colLeft = [79, 682];
const rowTop = r => 12 + r * 230.5;
const unit = panelW / 10;
const boxStep = 0.141 * unit, boxW = 6, capW = 4, medW = 4.4;
const titleCenters = [2.27, 7.16];   // in category units

const x = d3.scaleLinear().domain([-0.5, 9.5]).range([0, panelW]);
const y = d3.scaleLog().domain([Math.pow(10, -5.41), 10]).range([panelH, 0]);

const minorTicks = [];
for (let e = -6; e <= 0; e++) {
  for (let m = 2; m <= 9; m++) {
    const v = m * Math.pow(10, e);
    if (v >= y.domain()[0] && v <= y.domain()[1]) minorTicks.push(v);
  }
}

panelData.forEach((data, p) => {
  const col = p % 2, row = Math.floor(p / 2);
  const g = svg.append("g").attr("transform", `translate(${colLeft[col]},${rowTop(row)})`);

  // horizontal grid at each decade
  g.append("g").selectAll("line").data(yTicks).join("line")
    .attr("x1", 0).attr("x2", panelW)
    .attr("y1", d => y(d)).attr("y2", d => y(d))
    .attr("stroke", "#ebebeb").attr("stroke-width", 1.2);

  // training / validation divider
  g.append("line")
    .attr("x1", x(4.5)).attr("x2", x(4.5)).attr("y1", 0).attr("y2", panelH)
    .attr("stroke", "#858585").attr("stroke-width", 1.1).attr("stroke-dasharray", "4,2.5");

  // boxes
  data.forEach((series, k) => {
    const sg = g.append("g");
    const boxes = sg.selectAll("g").data(series).join("g")
      .attr("transform", (d, i) => `translate(${x(i) + (k - 2.5) * boxStep},0)`);
    const wStyle = sel => sel.attr("stroke", strokes[k]).attr("stroke-width", 1.5);
    boxes.append("line").attr("x1", 0).attr("x2", 0)
      .attr("y1", d => y(d[0])).attr("y2", d => y(d[1])).call(wStyle);
    boxes.append("line").attr("x1", 0).attr("x2", 0)
      .attr("y1", d => y(d[3])).attr("y2", d => y(d[4])).call(wStyle);
    boxes.append("line").attr("x1", -capW / 2).attr("x2", capW / 2)
      .attr("y1", d => y(d[0])).attr("y2", d => y(d[0])).call(wStyle);
    boxes.append("line").attr("x1", -capW / 2).attr("x2", capW / 2)
      .attr("y1", d => y(d[4])).attr("y2", d => y(d[4])).call(wStyle);
    boxes.append("rect")
      .attr("x", -boxW / 2).attr("width", boxW)
      .attr("y", d => y(d[3])).attr("height", d => Math.max(1, y(d[1]) - y(d[3])))
      .attr("fill", fills[k]).attr("stroke", strokes[k]).attr("stroke-width", 1);
    boxes.append("line").attr("x1", -medW / 2).attr("x2", medW / 2)
      .attr("y1", d => y(d[2])).attr("y2", d => y(d[2]))
      .attr("stroke", "#1a1a1a").attr("stroke-width", 2);
  });

  // frame
  g.append("rect").attr("width", panelW).attr("height", panelH)
    .attr("fill", "none").attr("stroke", textColor).attr("stroke-width", 1.25);

  // y axis ticks (major + minor)
  const yMajor = g.append("g").call(d3.axisLeft(y).tickValues(yTicks).tickSize(3.5).tickFormat(""));
  const yMinor = g.append("g").call(d3.axisLeft(y).tickValues(minorTicks).tickSize(2).tickFormat(""));
  [yMajor, yMinor].forEach(a => {
    a.select(".domain").remove();
    a.selectAll("line").attr("stroke", textColor).attr("stroke-width", 0.9);
  });

  // y tick labels with superscript exponents
  yTicks.forEach(v => {
    const e = Math.round(Math.log10(v));
    const t = g.append("text")
      .attr("x", -9).attr("y", y(v) + 5)
      .attr("text-anchor", "end").attr("fill", textColor).attr("font-size", 13);
    t.append("tspan").text("10");
    t.append("tspan").attr("dy", -6).attr("font-size", 9.5).text(e === 0 ? "0" : "\u2212" + (-e));
  });

  // x ticks
  const xa = g.append("g").attr("transform", `translate(0,${panelH})`)
    .call(d3.axisBottom(x).tickValues(d3.range(10)).tickSize(3.5).tickFormat(""));
  xa.select(".domain").remove();
  xa.selectAll("line").attr("stroke", textColor).attr("stroke-width", 0.9);

  // x tick labels on the bottom row only
  if (row === 4) {
    d3.range(10).forEach(i => {
      const lines = seasonLabels[i % 5];
      lines.forEach((s, li) => {
        g.append("text")
          .attr("x", x(i)).attr("y", panelH + 20.5 + li * 13.5)
          .attr("text-anchor", "middle").attr("fill", "#333").attr("font-size", 12.2)
          .text(s);
      });
    });
  }

  // y axis title
  g.append("text")
    .attr("transform", `translate(-58,${panelH / 2}) rotate(-90)`)
    .attr("text-anchor", "middle").attr("dominant-baseline", "middle")
    .attr("fill", textColor).attr("font-size", 15)
    .text("IQD score");

  // period titles
  titleCenters.forEach((cx, j) => {
    g.append("text")
      .attr("x", x(cx)).attr("y", 21)
      .attr("text-anchor", "middle").attr("font-weight", "bold").attr("font-size", 15)
      .attr("fill", "#111").text(periods[j]);
  });

  // model name
  g.append("text")
    .attr("x", panelW - 6).attr("y", panelH - 9)
    .attr("text-anchor", "end").attr("font-weight", "bold").attr("font-size", 15)
    .attr("fill", "#111").text(models[p]);
});

// ---- legend ----
const leg = svg.append("g");
const legBox = leg.append("rect")
  .attr("x", 79).attr("y", 1191).attr("height", 40).attr("rx", 3)
  .attr("fill", "#fff").attr("stroke", "#cfcfcf").attr("stroke-width", 1);
let lx = 85;
seriesNames.forEach((name, k) => {
  leg.append("rect")
    .attr("x", lx).attr("y", 1199).attr("width", 36).attr("height", 14)
    .attr("fill", fills[k]).attr("stroke", strokes[k]).attr("stroke-width", 1);
  const t = leg.append("text")
    .attr("x", lx + 48).attr("y", 1212.5)
    .attr("fill", textColor).attr("font-size", 16.4).text(name);
  const w = t.node().getComputedTextLength();
  lx = lx + 48 + w + 34;
});
legBox.attr("width", lx - 34 + 6 - 79);
</script>
</body>
</html>
